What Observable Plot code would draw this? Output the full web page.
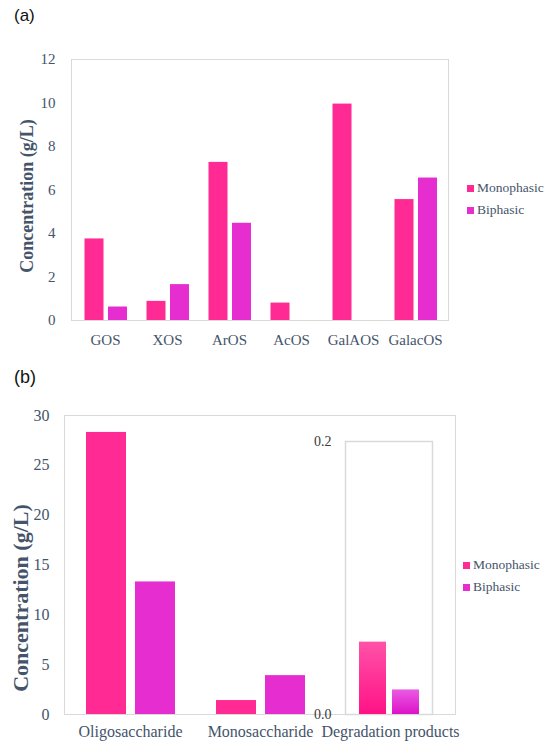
<!DOCTYPE html>
<html>
<head>
<meta charset="utf-8">
<script src="https://cdn.jsdelivr.net/npm/d3@7"></script>
<script src="https://cdn.jsdelivr.net/npm/@observablehq/plot@0.6"></script>
<style>
  html, body { margin: 0; padding: 0; background: #fff; }
  #root { position: relative; width: 550px; height: 749px; overflow: hidden; background: #fff; }
  .panel { position: absolute; left: 0; width: 550px; }
  .panel svg { position: absolute; left: 0; top: 0; }
  .tag { position: absolute; font-family: "Liberation Sans", Arial, sans-serif; color: #111; }
  .legend { position: absolute; font-family: "Liberation Serif", "Times New Roman", serif; font-size: 13.5px; color: #44546A; }
  .legend .row { display: flex; align-items: center; height: 22px; }
  .legend .sw { width: 7px; height: 7px; margin-right: 3px; }
</style>
</head>
<body>
<div id="root">
  <div class="tag" style="left:14px;top:6px;font-size:17px;">(a)</div>
  <div class="panel" id="pa" style="top:0;height:355px;"></div>
  <div class="legend" id="lega" style="left:467px;top:177px;"></div>
  <div class="tag" style="left:14px;top:367px;font-size:18px;">(b)</div>
  <div class="panel" id="pb" style="top:360px;height:389px;"></div>
  <div class="legend" id="legb" style="left:463px;top:554px;"></div>
</div>
<script>
// ---- Data ----
const seriesNames = ["Monophasic", "Biphasic"];
const seriesColors = ["#FF2A93", "#E52DD0"];

const catsA = ["GOS", "XOS", "ArOS", "AcOS", "GalAOS", "GalacOS"];
const monoA = [3.75, 0.88, 7.27, 0.8, 9.95, 5.56];
const biA   = [0.62, 1.65, 4.47, 0, 0, 6.55];
const ticksA = [0, 2, 4, 6, 8, 10, 12];

const catsB = ["Oligosaccharide", "Monosaccharide", "Degradation products"];
const monoB = [28.3, 1.4, 0.053];
const biB   = [13.3, 3.9, 0.018];
const ticksB = [0, 5, 10, 15, 20, 25, 30];
const ticksInset = [0, 0.2];

const yLabel = "Concentration (g/L)";
const axisColor = "#44546A";
const frameColor = "#D9D9D9";
const serif = "'Liberation Serif', 'Times New Roman', serif";

const rowsA = (vals) => catsA.map((c, i) => ({cat: c, v: vals[i]}));
const rowsB = (vals) => catsB.slice(0, 2).map((c, i) => ({cat: c, v: vals[i]}));

// ---- Panel (a) ----
const plotA = Plot.plot({
  width: 550, height: 355,
  marginLeft: 71, marginRight: 102, marginTop: 59, marginBottom: 35,
  style: {fontFamily: serif, fontSize: "15px", color: axisColor, background: "transparent", overflow: "visible"},
  x: {domain: catsA, padding: 0, label: null, tickSize: 0, tickPadding: 14},
  y: {domain: [0, 12], ticks: ticksA, label: null, tickSize: 0, tickPadding: 16},
  marks: [
    Plot.frame({stroke: frameColor, strokeWidth: 1}),
    Plot.barY(rowsA(monoA), {x: "cat", y: "v", fill: seriesColors[0], insetLeft: 10.5, insetRight: 32.5}),
    Plot.barY(rowsA(biA).filter(d => d.v > 0), {x: "cat", y: "v", fill: seriesColors[1], insetLeft: 34, insetRight: 9}),
    Plot.text([yLabel], {text: d => d, frameAnchor: "left", textAnchor: "middle", rotate: -90, dx: -44, dy: 6,
      fontWeight: "bold", fontSize: 18, fill: axisColor, letterSpacing: "0.5px"})
  ]
});
document.getElementById("pa").appendChild(plotA);

// ---- Panel (b) main ----
const plotB = Plot.plot({
  width: 550, height: 389,
  marginLeft: 64, marginRight: 95, marginTop: 55, marginBottom: 35,
  style: {fontFamily: serif, fontSize: "16px", color: axisColor, background: "transparent", overflow: "visible"},
  x: {domain: catsB, padding: 0, label: null, tickSize: 0, tickPadding: 11},
  y: {domain: [0, 30], ticks: ticksB, label: null, tickSize: 0, tickPadding: 15},
  marks: [
    Plot.frame({stroke: frameColor, strokeWidth: 1}),
    Plot.barY(rowsB(monoB), {x: "cat", y: "v", fill: seriesColors[0], insetLeft: 21, insetRight: 69}),
    Plot.barY(rowsB(biB), {x: "cat", y: "v", fill: seriesColors[1], insetLeft: 70, insetRight: 20}),
    Plot.text([yLabel], {text: d => d, frameAnchor: "left", textAnchor: "middle", rotate: -90, dx: -43.5, dy: 33,
      fontWeight: "bold", fontSize: 22, fill: axisColor, letterSpacing: "1px"})
  ]
});
document.getElementById("pb").appendChild(plotB);

// ---- Panel (b) inset (Degradation products, own scale) ----
const defs = () => {
  const ns = "http://www.w3.org/2000/svg";
  const d = document.createElementNS(ns, "defs");
  const mk = (id, top, bottom) => {
    const g = document.createElementNS(ns, "linearGradient");
    g.setAttribute("id", id); g.setAttribute("x1", "0"); g.setAttribute("y1", "0");
    g.setAttribute("x2", "0"); g.setAttribute("y2", "1");
    [[0, top], [1, bottom]].forEach(([o, c]) => {
      const s = document.createElementNS(ns, "stop");
      s.setAttribute("offset", o); s.setAttribute("stop-color", c);
      g.appendChild(s);
    });
    d.appendChild(g);
  };
  mk("gMono", "#FF52A8", "#FF1286");
  mk("gBi", "#EA5CE2", "#DC12C8");
  return d;
};
const degRows = [{cat: catsB[2], s: seriesNames[0], v: monoB[2]}, {cat: catsB[2], s: seriesNames[1], v: biB[2]}];
const plotInset = Plot.plot({
  width: 550, height: 389,
  marginLeft: 345, marginRight: 118, marginTop: 81, marginBottom: 35,
  style: {fontFamily: serif, fontSize: "14px", color: "#3A3A3A", background: "transparent", overflow: "visible"},
  x: {domain: [catsB[2]], padding: 0, axis: null},
  y: {domain: [0, 0.2], ticks: ticksInset, tickFormat: ".1f", label: null, tickSize: 0, tickPadding: 14},
  marks: [
    defs,
    Plot.frame({stroke: frameColor, strokeWidth: 1.5, fill: "white"}),
    Plot.barY(degRows.slice(0, 1), {x: "cat", y: "v", fill: "url(#gMono)", insetLeft: 14, insetRight: 46}),
    Plot.barY(degRows.slice(1, 2), {x: "cat", y: "v", fill: "url(#gBi)", insetLeft: 47, insetRight: 13})
  ]
});
document.getElementById("pb").appendChild(plotInset);

// ---- Legends ----
function legend(el) {
  seriesNames.forEach((n, i) => {
    const r = document.createElement("div"); r.className = "row";
    const sw = document.createElement("div"); sw.className = "sw"; sw.style.background = seriesColors[i];
    const t = document.createElement("span"); t.textContent = n;
    r.appendChild(sw); r.appendChild(t); el.appendChild(r);
  });
}
legend(document.getElementById("lega"));
legend(document.getElementById("legb"));
</script>
</body>
</html>
